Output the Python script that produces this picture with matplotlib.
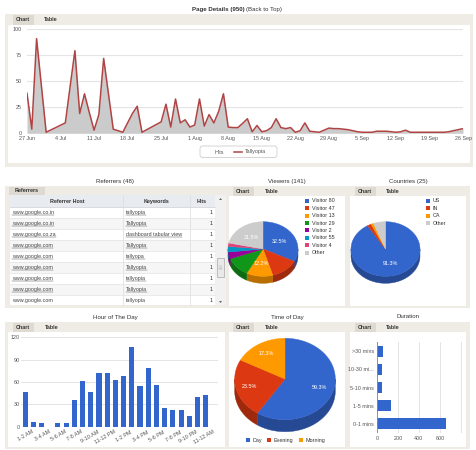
import numpy as np
import matplotlib.pyplot as plt
from matplotlib.patches import Rectangle, Polygon, FancyBboxPatch

plt.rcParams['font.family'] = ['Liberation Sans', 'DejaVu Sans']

W, H = 476, 450

# ---- data ----
date_labels = ['27 Jun', '4 Jul', '11 Jul', '18 Jul', '25 Jul', '1 Aug', '8 Aug',
               '15 Aug', '22 Aug', '29 Aug', '5 Sep', '12 Sep', '19 Sep', '26 Sep']
daily_hits = [38.5, 4, 91, 46, 1, 3.3, 5.5, 7.8, 10, 45, 79.5, 19, 38, 20, 3, 18,
              72, 38, 4, 2.5, 1, 10, 19, 26, 1, 3.5, 6, 8.5, 11, 28, 6, 33, 10, 13,
              6, 8, 33, 7, 18, 10, 21, 38, 6, 5.5, 5.5, 9.5, 14, 1.5, 7.5, 1.5, 2.5,
              5.5, 14, 5.5, 4.5, 5.5, 1, 2.5, 10, 2, 1.5, 1, 3, 5, 4.5, 4.5, 4, 3.5,
              2.5, 1.5, 1, 1, 1, 2, 2, 2, 1.5, 1, 1.5, 3, 1, 1, 1, 1, 1, 1, 1, 1,
              1.5, 2.5, 3.5, 4.5]

ref_hosts = ['www.google.co.in', 'www.google.co.in', 'www.google.co.za', 'www.google.com',
             'www.google.com', 'www.google.com', 'www.google.com', 'www.google.com',
             'www.google.com']
ref_keywords = ['tallyopia', 'Tallyopia', 'dashboard tabular view', 'Tallyopia',
                'tallyopa', 'Tallyopia', 'tallyopia', 'Tallyopia', 'tallyopia']
ref_hits = [1, 1, 1, 1, 1, 1, 1, 1, 1]

viewer_names = ['Visitor 80', 'Visitor 47', 'Visitor 13', 'Visitor 29', 'Visitor 2',
                'Visitor 55', 'Visitor 4', 'Other']
viewer_share = [32.5, 13.0, 12.2, 11.5, 4.0, 3.3, 2.0, 21.5]

country_names = ['US', 'IN', 'CA', 'Other']
country_share = [91.3, 1.8, 1.2, 5.7]

hour_labels = ['12-1 AM', '1-2 AM', '2-3 AM', '3-4 AM', '4-5 AM', '5-6 AM', '6-7 AM',
               '7-8 AM', '8-9 AM', '9-10 AM', '10-11 AM', '11-12 PM', '12-1 PM',
               '1-2 PM', '2-3 PM', '3-4 PM', '4-5 PM', '5-6 PM', '6-7 PM', '7-8 PM',
               '8-9 PM', '9-10 PM', '10-11 PM', '11-12 AM']
hour_hits = [46, 6, 5, 0, 5, 5, 36, 61, 47, 72, 72, 63, 68, 107, 55, 79, 56, 25, 22,
             23, 15, 40, 42, 0]

tod_names = ['Day', 'Evening', 'Morning']
tod_share = [59.3, 23.5, 17.3]

dur_labels = ['>30 mins', '10-30 mi...', '5-10 mins', '1-5 mins', '0-1 mins']
dur_hits = [54, 47, 47, 136, 657]

# ---- styling ----
BEIGE = '#efece6'
TABC = '#dedad2'
TXT = '#333333'
TICK = '#555555'
GRID = '#e4e4e4'
BLUE = '#3366cc'
PIE = ['#3366cc', '#dc3912', '#ff9900', '#109618', '#990099', '#0099c6', '#dd4477', '#cccccc']
FS = 3.9
TFS = 4.4

fig = plt.figure(figsize=(W / 100, H / 100), dpi=100)
fig.patch.set_facecolor('white')

bg = fig.add_axes([0, 0, 1, 1])
bg.set_xlim(0, W)
bg.set_ylim(H, 0)
bg.axis('off')


def ax_px(x, y, w, h):
    return fig.add_axes([x / W, 1 - (y + h) / H, w / W, h / H])


def rect(x0, y0, x1, y1, color, z=0, **kw):
    bg.add_patch(Rectangle((x0, y0), x1 - x0, y1 - y0, facecolor=color,
                           edgecolor=kw.pop('ec', 'none'), zorder=z, **kw))


def tabs(cx_chart, cx_table, y0, y1, first='Chart', second='Table', box=None):
    bx0, bx1 = box if box else (cx_chart - 10.5, cx_chart + 10.5)
    rect(bx0, y0 + 0.8, bx1, y1, TABC, 1)
    ym = (y0 + y1) / 2 + 0.4
    bg.text(cx_chart, ym, first, fontsize=FS, weight='bold', color=TXT,
            ha='center', va='center', zorder=2)
    if second:
        bg.text(cx_table, ym, second, fontsize=FS, weight='bold', color=TXT,
                ha='center', va='center', zorder=2)


def darken(c, f=0.72):
    r, g, b = plt.matplotlib.colors.to_rgb(c)
    return (r * f, g * f, b * f)


def pie3d(vals, colors, cx, cy, rx, ry, depth, show, f):
    fr = np.array(vals) / sum(vals)
    starts = 90 - 360 * np.concatenate([[0], np.cumsum(fr)[:-1]])
    ends = starts - 360 * fr
    for s, e, c in zip(starts, ends, colors):
        for k in (-2, -1, 0):
            lo, hi = max(e, 180 + 360 * k), min(s, 360 + 360 * k)
            if hi > lo:
                t = np.radians(np.linspace(lo, hi, 60))
                xs = cx + rx * np.cos(t)
                ys = cy - ry * np.sin(t)
                pts = np.column_stack([np.r_[xs, xs[::-1]], np.r_[ys, ys[::-1] + depth]])
                bg.add_patch(Polygon(pts, closed=True, fc=darken(c), ec=darken(c),
                                     lw=0.3, zorder=5))
    for s, e, c, v, sh in zip(starts, ends, colors, vals, show):
        t = np.radians(np.linspace(s, e, 120))
        pts = np.vstack([[cx, cy], np.column_stack([cx + rx * np.cos(t), cy - ry * np.sin(t)])])
        bg.add_patch(Polygon(pts, closed=True, fc=c, ec=c, lw=0.3, zorder=6))
        if sh:
            m = np.radians((s + e) / 2)
            bg.text(cx + f * rx * np.cos(m), cy - f * ry * np.sin(m), f'{v:.1f}%',
                    fontsize=FS, color='white', ha='center', va='center', zorder=7)


def legend_sq(x, y, color, label):
    rect(x, y - 2, x + 4, y + 2, color, 3)
    bg.text(x + 6.5, y + 0.2, label, fontsize=FS, color=TXT, va='center', zorder=3)


# ---- panel frames ----
rect(5, 14, 473, 167, BEIGE)
rect(8, 24.5, 470, 163, 'white', 1)
rect(5, 186, 470, 308, BEIGE)
rect(10, 195, 226, 305, 'white', 1)
rect(229, 196, 345, 306, 'white', 1)
rect(350, 196, 466, 306, 'white', 1)
rect(5, 322, 470, 449, BEIGE)
rect(8, 332, 225, 447, 'white', 1)
rect(229, 332, 345, 447, 'white', 1)
rect(350, 332, 466, 447, 'white', 1)

# ---- titles ----
bg.text(245, 9.5, 'Page Details (950)', fontsize=TFS, weight='bold', color=TXT,
        ha='right', va='center')
bg.text(246.5, 9.5, '(Back to Top)', fontsize=TFS, color=TXT, ha='left', va='center')
for x, y, s in [(115, 181, 'Referrers (48)'), (287, 181, 'Viewers (141)'),
                (408, 181, 'Countries (25)'), (115, 317, 'Hour of The Day'),
                (287, 317, 'Time of Day'), (408, 317, 'Duration')]:
    bg.text(x, y, s, fontsize=TFS, color=TXT, ha='center', va='center')

tabs(23, 51, 14, 24.5)
tabs(27, 0, 186, 195, first='Referrers', second=None, box=(9, 45))
tabs(243, 272, 186, 196)
tabs(365, 393, 186, 196)
tabs(23, 52, 322, 332)
tabs(243, 272, 322, 332)
tabs(365, 393, 322, 332)

# ---- page details line chart ----
ax = ax_px(27, 29.3, 436, 104)
days = np.arange(len(daily_hits))
ax.fill_between(days, daily_hits, color='#cbcbcb', lw=0, zorder=2)
ax.plot(days, daily_hits, color='#b04444', lw=1.1, zorder=3)
ax.set_xlim(0, days[-1])
ax.set_ylim(0, 100)
ax.set_yticks([0, 25, 50, 75, 100])
ax.set_xticks(np.arange(0, days[-1] + 1, 7))
ax.set_xticklabels(date_labels)
for yv in [25, 50, 75, 100]:
    ax.axhline(yv, color=GRID, lw=0.8, zorder=1)
ax.axhline(0, color='#aaaaaa', lw=0.6, zorder=4)
for sp in ax.spines.values():
    sp.set_visible(False)
ax.tick_params(length=0, labelsize=FS, labelcolor=TICK, pad=2)
ax.tick_params(axis='y', pad=4)
ax.patch.set_alpha(0)

bg.add_patch(FancyBboxPatch((200, 146), 77, 11.5, boxstyle='round,pad=0,rounding_size=2.5',
                            fc='white', ec='#c4c4c4', lw=0.5, zorder=3))
bg.text(219, 152, 'Hits', fontsize=FS, color=TICK, ha='center', va='center', zorder=4)
bg.plot([234, 242], [152, 152], color='#b04444', lw=1.1, zorder=4)
bg.text(244.5, 152, 'Tallyopia', fontsize=FS, color=TICK, ha='left', va='center', zorder=4)

# ---- referrers table ----
rect(10, 195, 215, 207, '#e8ecf1', 2)
bg.plot([10, 215], [207, 207], color='#c8ccd2', lw=0.5, zorder=3)
for x in [123, 190]:
    bg.plot([x, x], [195, 305], color='#dcdcdc', lw=0.5, zorder=3)
bg.text(67, 201.3, 'Referrer Host', fontsize=FS, weight='bold', color=TXT,
        ha='center', va='center', zorder=4)
bg.text(156, 201.3, 'Keywords', fontsize=FS, weight='bold', color=TXT,
        ha='center', va='center', zorder=4)
bg.text(202, 201.3, 'Hits', fontsize=FS, weight='bold', color=TXT,
        ha='center', va='center', zorder=4)
links = []
for i, (h, k, n) in enumerate(zip(ref_hosts, ref_keywords, ref_hits)):
    y0 = 207 + 11 * i
    y1 = min(y0 + 11, 305)
    rect(10, y0, 215, y1, '#ffffff' if i % 2 == 0 else '#f6f6f6', 2)
    if y1 == y0 + 11:
        bg.plot([10, 215], [y1, y1], color='#e2e2e2', lw=0.5, zorder=3)
    yc = y0 + 5.8
    t1 = bg.text(12, yc, h, fontsize=FS, color='#444444', va='center', zorder=4)
    t2 = bg.text(126, yc, k, fontsize=FS, color='#444444', va='center', zorder=4)
    bg.text(213, yc, str(n), fontsize=FS, color=TXT, ha='right', va='center', zorder=4)
    if i < len(ref_hosts) - 1:
        links += [t1, t2]
# scrollbar
rect(215, 195, 226, 305, '#f1f1f1', 2)
rect(217, 258, 224, 277, '#e9e9e9', 3, ec='#a8a8a8', lw=0.5)
for yy in [266, 267.5, 269]:
    bg.plot([219, 222], [yy, yy], color='#999999', lw=0.3, zorder=4)
bg.add_patch(Polygon([[219, 200], [222, 200], [220.5, 198]], fc='#666666', zorder=4))
bg.add_patch(Polygon([[219, 301], [222, 301], [220.5, 303]], fc='#666666', zorder=4))

# ---- viewers pie ----
pie3d(viewer_share, PIE, 263, 249, 35, 27.3, 7,
      [True, False, True, False, False, False, False, True], 0.55)
for i, (n, c) in enumerate(zip(viewer_names, PIE)):
    legend_sq(305, 200.7 + 7.4 * i, c, n)

# ---- countries pie ----
ccol = [PIE[0], PIE[1], PIE[2], PIE[7]]
pie3d(country_share, ccol, 385.5, 249, 34.5, 27.3, 7, [True, False, False, False], 0.55)
for i, (n, c) in enumerate(zip(country_names, ccol)):
    legend_sq(426, 200.7 + 7.4 * i, c, n)

# ---- hour of the day ----
ah = ax_px(21, 337.3, 197, 89.4)
xs = np.arange(len(hour_hits))
for yv in [30, 60, 90, 120]:
    ah.axhline(yv, color=GRID, lw=0.7, zorder=1)
ah.bar(xs, hour_hits, width=0.62, color=BLUE, zorder=2)
ah.axhline(0, color='#999999', lw=0.7, zorder=3)
ah.set_xlim(-0.5, len(hour_hits) - 0.5)
ah.set_ylim(0, 120)
ah.set_yticks([0, 30, 60, 90, 120])
ah.set_xticks(xs[1::2])
ah.set_xticklabels(hour_labels[1::2], rotation=30, ha='right', va='center',
                   rotation_mode='anchor')
for sp in ah.spines.values():
    sp.set_visible(False)
ah.tick_params(length=0, labelsize=FS, labelcolor=TICK, pad=1)
ah.tick_params(axis='x', pad=3.5)
ah.patch.set_alpha(0)

# ---- time of day pie ----
tcol = [PIE[0], PIE[1], PIE[2]]
pie3d(tod_share, tcol, 285, 379, 50.3, 40.7, 12, [True, True, True], 0.72)
for x, n, c in zip([246, 267, 299], tod_names, tcol):
    legend_sq(x, 440, c, n)

# ---- duration ----
ad = ax_px(377, 342, 85, 91)
ys = np.arange(len(dur_hits))
for xv in [200, 400, 600, 800]:
    ad.axvline(xv, color=GRID, lw=0.7, zorder=1)
ad.barh(ys, dur_hits, height=0.6, color=BLUE, zorder=2)
ad.axvline(0, color='#888888', lw=1.3, zorder=3)
ad.set_xlim(0, 810)
ad.set_ylim(len(dur_hits) - 0.5, -0.5)
ad.set_yticks(ys)
ad.set_yticklabels(dur_labels)
ad.set_xticks([0, 200, 400, 600])
for sp in ad.spines.values():
    sp.set_visible(False)
ad.tick_params(length=0, labelsize=FS, labelcolor=TICK, pad=2)
ad.patch.set_alpha(0)

# underline the table links
fig.canvas.draw()
inv = bg.transData.inverted()
for t in links:
    bb = t.get_window_extent()
    (x0, y0), (x1, y1) = inv.transform([[bb.x0, bb.y0], [bb.x1, bb.y1]])
    bg.plot([x0, x1], [y0 - 0.3, y0 - 0.3], color='#555555', lw=0.35, zorder=4)

fig.savefig('out.png', dpi=100)
